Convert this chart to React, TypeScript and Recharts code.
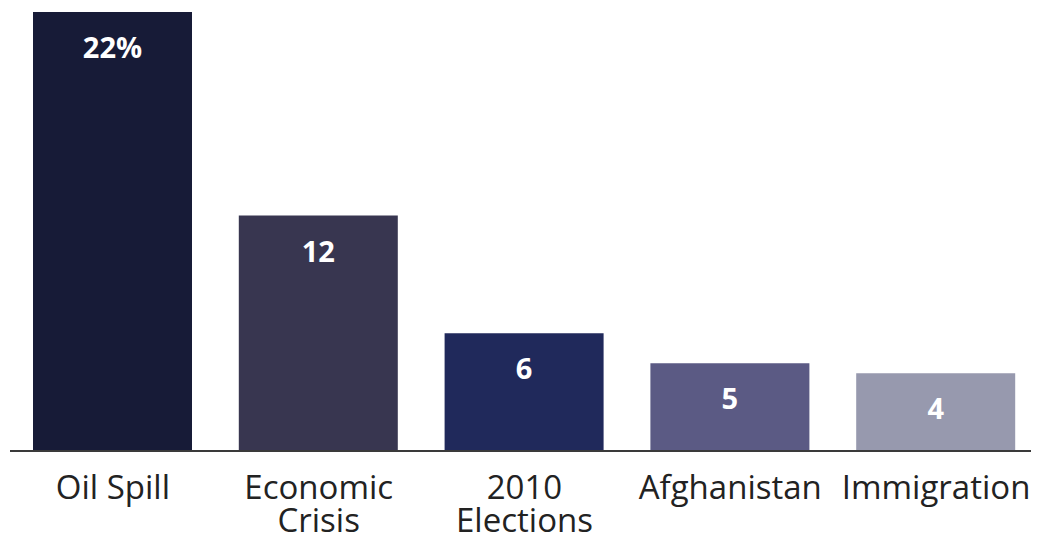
import { BarChart, Bar, XAxis, YAxis, Cell, LabelList } from 'recharts';

const categories = ['Oil Spill', 'Economic Crisis', '2010 Elections', 'Afghanistan', 'Immigration'];
// bar heights as drawn in the picture
const values = [22, 11.8, 5.9, 4.4, 3.9];
const valueLabels = ['22%', '12', '6', '5', '4'];
const COLORS = ['#171b37', '#383650', '#20295b', '#5b5a84', '#9799ae'];

// labels that wrap onto two lines
const tickLines: Record<string, string[]> = {
  'Economic Crisis': ['Economic', 'Crisis'],
  '2010 Elections': ['2010', 'Elections'],
};

const data = categories.map((name, i) => ({ name, value: values[i], label: valueLabels[i] }));

const FONT = '"Open Sans", sans-serif';

function Tick({ x, y, payload }: any) {
  const lines = tickLines[payload.value] || [payload.value];
  return (
    <text x={x} y={y} textAnchor="middle" fill="#222" fontFamily={FONT} fontSize={33}>
      {lines.map((l, i) => (
        <tspan key={i} x={x} y={y + 48 + i * 33}>
          {l}
        </tspan>
      ))}
    </text>
  );
}

function ValueLabel({ x, y, width, value }: any) {
  return (
    <text x={x + width / 2} y={y + 46} textAnchor="middle" fill="#fff" fontFamily={FONT} fontWeight={700} fontSize={29}>
      {value}
    </text>
  );
}

export default function App() {
  return (
    <div style={{ width: 1031, height: 540 }}>
      <BarChart width={1031} height={540} data={data} margin={{ top: 4, right: 0, bottom: 0, left: 2 }} barSize={159}>
        <XAxis
          dataKey="name"
          height={97}
          interval={0}
          tickLine={false}
          tickSize={0}
          tickMargin={0}
          axisLine={{ stroke: '#3a3a3a', strokeWidth: 2 }}
          tick={<Tick />}
        />
        <YAxis hide domain={[0, 22]} />
        <Bar dataKey="value" isAnimationActive={false}>
          {data.map((_, i) => (
            <Cell key={`cell-${i}`} fill={COLORS[i]} />
          ))}
          <LabelList dataKey="label" content={<ValueLabel />} />
        </Bar>
      </BarChart>
    </div>
  );
}
